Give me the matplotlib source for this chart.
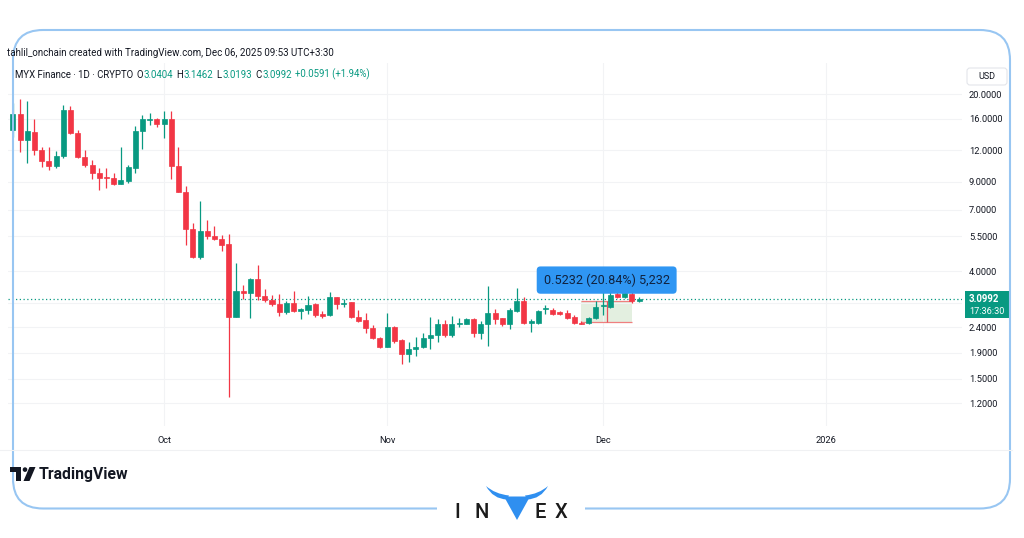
import matplotlib
matplotlib.use("Agg")
import matplotlib.pyplot as plt
import matplotlib.dates as mdates
from matplotlib.patches import FancyBboxPatch, Rectangle, Polygon, Circle, PathPatch
from matplotlib.path import Path
from matplotlib.ticker import FixedLocator, FixedFormatter, NullLocator
import pandas as pd

plt.rcParams['font.family'] = ['Roboto', 'DejaVu Sans']

# ---- MYX Finance daily candles (USD) ----
start_date = "2025-09-10"
opens = [14.45, 16.67, 13.19, 14.23, 12.04, 10.92, 10.41, 11.40, 17.34, 14.02,
         11.27, 10.51, 9.74, 9.39, 9.31, 8.84, 9.11, 10.25, 14.32, 15.83,
         15.97, 15.22, 15.97, 10.41, 8.24, 5.85, 4.56, 5.77, 5.48, 5.35,
         5.10, 2.64, 3.32, 3.27, 3.71, 3.19, 3.06, 2.97, 2.75, 3.00,
         2.78, 2.80, 2.95, 2.70, 2.68, 3.15, 2.95, 3.01, 2.64, 2.55,
         2.39, 2.17, 2.01, 2.41, 2.13, 1.88, 1.96, 2.01, 2.17, 2.23,
         2.48, 2.23, 2.46, 2.48, 2.58, 2.27, 2.47, 2.74, 2.60, 2.48,
         2.79, 3.04, 2.50, 2.49, 2.82, 2.81, 2.75, 2.74, 2.63, 2.50,
         2.49, 2.61, 2.90, 2.88, 3.24, 3.16, 3.25, 3.0404]
highs = [18.43, 19.11, 18.82, 15.97, 12.34, 12.34, 11.93, 18.15, 17.98, 14.45,
         12.04, 11.00, 10.19, 10.25, 9.74, 12.41, 10.51, 14.99, 16.57, 16.82,
         16.16, 17.22, 17.18, 12.41, 8.64, 6.18, 7.57, 6.39, 6.03, 5.55,
         5.58, 4.31, 3.52, 3.74, 4.21, 3.39, 3.22, 3.24, 3.05, 3.33,
         2.86, 3.19, 2.98, 2.78, 3.30, 3.17, 3.10, 3.03, 2.80, 2.74,
         2.45, 2.20, 2.74, 2.42, 2.16, 2.10, 2.19, 2.27, 2.62, 2.58,
         2.56, 2.66, 2.60, 2.61, 2.60, 2.54, 3.49, 2.82, 2.61, 2.85,
         3.42, 3.16, 2.59, 2.80, 2.94, 2.86, 2.79, 2.80, 2.67, 2.53,
         2.63, 3.04, 3.37, 3.31, 3.33, 3.46, 3.41, 3.1462]
lows = [13.59, 11.86, 10.73, 11.51, 10.29, 10.04, 10.25, 11.17, 13.89, 11.17,
        10.29, 9.22, 8.37, 8.54, 8.76, 8.81, 8.89, 9.74, 12.12, 15.12,
        14.81, 13.43, 9.25, 8.18, 5.07, 4.50, 4.48, 5.34, 5.29, 4.81,
        1.27, 2.62, 3.09, 2.60, 3.07, 3.03, 2.91, 2.66, 2.70, 2.76,
        2.58, 2.70, 2.62, 2.60, 2.66, 2.82, 2.87, 2.61, 2.52, 2.28,
        2.15, 1.99, 2.00, 2.07, 1.71, 1.74, 1.84, 1.98, 1.96, 2.10,
        2.20, 2.19, 2.41, 2.46, 2.20, 2.15, 2.02, 2.48, 2.43, 2.35,
        2.76, 2.48, 2.30, 2.48, 2.71, 2.67, 2.67, 2.58, 2.48, 2.47,
        2.48, 2.59, 2.67, 2.86, 3.14, 3.13, 3.00, 3.0193]
closes = [16.67, 13.19, 14.32, 12.04, 10.92, 10.41, 11.43, 17.34, 14.02, 11.27,
          10.51, 9.74, 9.31, 9.31, 8.84, 9.16, 10.29, 14.36, 15.93, 16.01,
          15.22, 15.97, 10.41, 8.24, 5.85, 4.56, 5.77, 5.48, 5.35, 5.09,
          2.64, 3.33, 3.27, 3.71, 3.19, 3.06, 2.96, 2.76, 3.00, 2.78,
          2.82, 2.93, 2.68, 2.66, 3.15, 2.96, 3.00, 2.64, 2.54, 2.39,
          2.17, 2.01, 2.41, 2.12, 1.88, 1.97, 2.01, 2.17, 2.23, 2.48,
          2.23, 2.47, 2.50, 2.58, 2.27, 2.46, 2.74, 2.58, 2.47, 2.80,
          3.05, 2.50, 2.53, 2.77, 2.86, 2.70, 2.70, 2.61, 2.50, 2.48,
          2.61, 2.88, 2.94, 3.21, 3.16, 3.27, 3.04, 3.0992]

price_ticks = [1.2, 1.5, 1.9, 2.4, 3.0, 4.0, 5.5, 7.0, 9.0, 12.0, 16.0, 20.0]
# the 3.0 label sits under the last-price badge, so it is left blank
price_labels = ["1.2000", "1.5000", "1.9000", "2.4000", "", "4.0000", "5.5000",
                "7.0000", "9.0000", "12.0000", "16.0000", "20.0000"]
time_ticks = ["2025-10-01", "2025-11-01", "2025-12-01", "2026-01-01"]
time_labels = ["Oct", "Nov", "Dec", "2026"]

# price-range measurement
range_start_idx, range_end_idx = 79, 86
range_low, range_high = 2.5106, 3.0338
range_text = "0.5232 (20.84%) 5,232"

header_text = "tahlil_onchain created with TradingView.com, Dec 06, 2025 09:53 UTC+3:30"
symbol_text = "MYX Finance \u00b7 1D \u00b7 CRYPTO"
change_text = "+0.0591 (+1.94%)"
countdown_text = "17:36:30"

UP = "#089981"
DOWN = "#F23645"
INK = "#131722"

W, H = 1024, 538
fig = plt.figure(figsize=(W / 100, H / 100), dpi=100)
fig.patch.set_facecolor("white")


def px_rect(l, t, r, b):
    return [l / W, 1 - b / H, (r - l) / W, (b - t) / H]


ax = fig.add_axes(px_rect(8, 63, 962, 426))
ax.set_yscale("log")
dates = pd.date_range(start_date, periods=len(closes), freq="D")
xs = mdates.date2num(dates)

colors = [UP if c >= o else DOWN for o, c in zip(opens, closes)]
bottoms = [min(o, c) for o, c in zip(opens, closes)]
heights = [abs(c - o) for o, c in zip(opens, closes)]

ax.vlines(xs, lows, highs, colors=colors, lw=0.9, zorder=3)
ax.bar(xs, heights, bottom=bottoms, width=0.7, color=colors,
       edgecolor=colors, linewidth=0.5, zorder=4)

ax.set_xlim(xs[0] - 0.68, xs[0] + 131.87)
ax.set_ylim(0.975, 26.6)

ax.yaxis.tick_right()
ax.yaxis.set_major_locator(FixedLocator(price_ticks))
ax.yaxis.set_major_formatter(FixedFormatter(price_labels))
ax.yaxis.set_minor_locator(NullLocator())
tick_x = mdates.date2num(pd.to_datetime(time_ticks))
ax.xaxis.set_major_locator(FixedLocator(tick_x))
ax.xaxis.set_major_formatter(FixedFormatter(time_labels))
ax.xaxis.set_minor_locator(NullLocator())
ax.tick_params(axis="y", length=0, pad=5, labelsize=6.7, labelcolor=INK)
ax.tick_params(axis="x", length=0, pad=7, labelsize=6.7, labelcolor=INK)
for s in ax.spines.values():
    s.set_visible(False)
ax.grid(True, color="#f2f3f5", lw=0.8, zorder=0)

# last price dotted line
ax.axhline(closes[-1], color=UP, lw=0.9, ls=(0, (1, 2)), zorder=2)

# price-range tool
x0, x1 = xs[range_start_idx], xs[range_end_idx]
xm = (x0 + x1) / 2
ax.fill_between([x0, x1], range_low, range_high, color="#e3efe0", lw=0, zorder=1)
ax.hlines([range_low, range_high], x0, x1, colors="#ef7f7f", lw=0.9, zorder=2)
ax.vlines(xm, range_low, range_high, colors="#e8505b", lw=0.9, zorder=2)
ax.annotate(range_text, xy=(xm, range_high), xytext=(0, 10.5), textcoords="offset points",
            ha="center", va="bottom", fontsize=9.1, color="#10223f", zorder=6,
            bbox=dict(boxstyle="round,pad=0.55,rounding_size=0.3", fc="#2f96f3", ec="none"))

# ---- overlay in pixel coordinates ----
deco = fig.add_axes([0, 0, 1, 1], zorder=10)
deco.set_xlim(0, W)
deco.set_ylim(H, 0)
deco.axis("off")
deco.patch.set_alpha(0)

fig.canvas.draw()
renderer = fig.canvas.get_renderer()

deco.text(7, 53.5, header_text, fontsize=7.05, color=INK, ha="left", va="center")

# symbol legend, laid out piece by piece
legend_parts = [
    (symbol_text, INK, 3.0),
    ("O", INK, 0.6), (f"{opens[-1]:.4f}", UP, 3.5),
    ("H", INK, 0.6), (f"{highs[-1]:.4f}", UP, 3.5),
    ("L", INK, 0.6), (f"{lows[-1]:.4f}", UP, 3.5),
    ("C", INK, 0.6), (f"{closes[-1]:.4f}", UP, 3.5),
    (change_text, UP, 0),
]
cursor = 15
for s, c, gap in legend_parts:
    t = deco.text(cursor, 74.5, s, fontsize=6.9, color=c, ha="left", va="center")
    cursor += t.get_window_extent(renderer).width + gap

# USD badge on the price scale
deco.add_patch(FancyBboxPatch((967, 68), 40, 17, boxstyle="round,pad=0,rounding_size=3",
                              fc="white", ec="#e3e5ea", lw=0.8))
deco.text(987, 76.5, "USD", fontsize=6.5, color=INK, ha="center", va="center")

# last price badge, anchored to the last close
_, ypix = ax.transData.transform((xs[-1], closes[-1]))
ylast = H - ypix
deco.add_patch(Rectangle((965, ylast - 8), 46, 27, fc=UP, ec="none"))
deco.text(969, ylast, f"{closes[-1]:.4f}", fontsize=6.9, color="white",
          ha="left", va="center", fontweight="bold")
deco.text(969, ylast + 12, countdown_text, fontsize=6.6, color="white",
          ha="left", va="center")

# time scale bottom edge
deco.plot([0, 1012], [450, 450], color="#f0f1f3", lw=0.8)

# outer rounded frame
deco.add_patch(FancyBboxPatch((13, 30), 997, 478.5, boxstyle="round,pad=0,rounding_size=30",
                              fc="none", ec="#98c6f2", lw=1.5))
deco.add_patch(Rectangle((437, 502), 148, 13, fc="white", ec="none"))

# TradingView logo
deco.add_patch(Polygon([(10, 467), (21, 467), (21, 481), (16, 481), (16, 472), (10, 472)],
                       closed=True, fc="#131722", ec="none"))
deco.add_patch(Circle((25, 469.6), 2.3, fc="#131722", ec="none"))
deco.add_patch(Polygon([(29.5, 467), (35.5, 467), (29.5, 481), (23.5, 481)],
                       closed=True, fc="#131722", ec="none"))
deco.text(39, 474, "TradingView", fontsize=11.3, fontweight="bold", color="#131722",
          ha="left", va="center")

# INVEX wordmark
for lx, ch in [(457, "I"), (482, "N"), (540, "E"), (561, "X")]:
    deco.text(lx, 512, ch, fontsize=14.5, color="#1b1b1b", ha="center", va="center",
              fontweight="medium")
blue = "#2f8ff0"
deco.add_patch(Polygon([(504, 496.5), (530, 496.5), (517, 520)], closed=True, fc=blue, ec="none"))
left_horn = Path([(507, 499.5), (493, 499), (486, 486), (495, 494), (509, 495.5), (507, 499.5)],
                 [Path.MOVETO, Path.CURVE3, Path.CURVE3, Path.CURVE3, Path.CURVE3, Path.CLOSEPOLY])
right_horn = Path([(527, 499.5), (541, 499), (548, 486), (539, 494), (525, 495.5), (527, 499.5)],
                  [Path.MOVETO, Path.CURVE3, Path.CURVE3, Path.CURVE3, Path.CURVE3, Path.CLOSEPOLY])
deco.add_patch(PathPatch(left_horn, fc=blue, ec="none"))
deco.add_patch(PathPatch(right_horn, fc=blue, ec="none"))

fig.savefig("out.png", dpi=100, facecolor="white")
